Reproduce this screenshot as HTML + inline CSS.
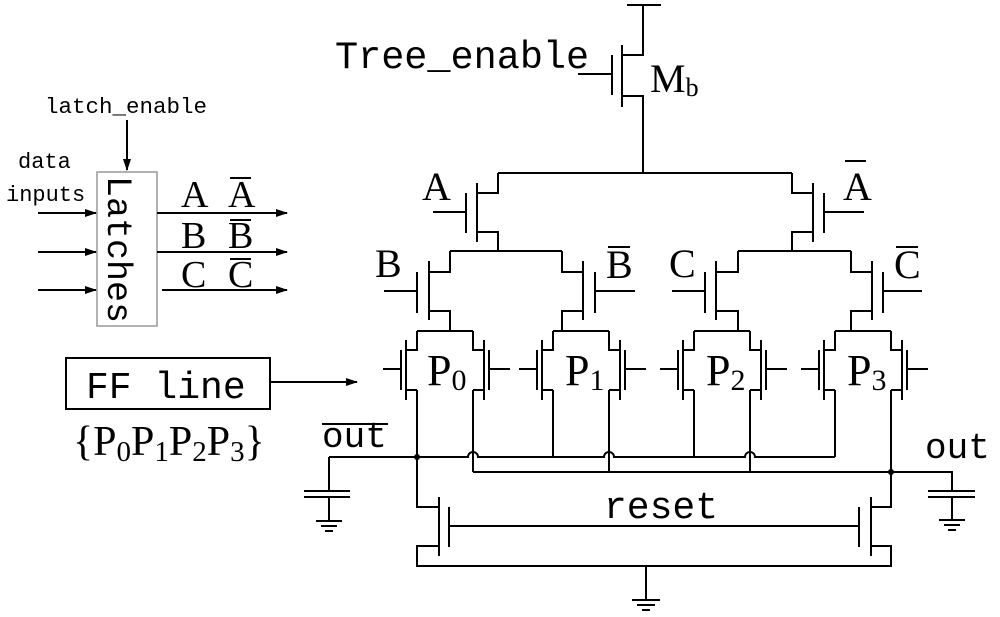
<!DOCTYPE html>
<html><head><meta charset="utf-8"><style>
html,body{margin:0;padding:0;background:#fff}
svg{display:block}
.s{font-family:"Liberation Serif",serif;fill:#000}
.m{font-family:"Liberation Mono",monospace;fill:#000}
</style></head><body>
<svg width="1000" height="617" viewBox="0 0 1000 617" xmlns="http://www.w3.org/2000/svg">
<defs>
<marker id="ar" markerWidth="12" markerHeight="10" refX="11" refY="5" orient="auto" markerUnits="userSpaceOnUse"><path d="M0,1 L12,5 L0,9 Z" fill="#000"/></marker>
</defs>
<g fill="none" stroke="#000" stroke-width="2">
<path d="M627,5 H661 M643,5 V55 H622 M622,45 V107 M612,55 V95 M578,74 H612 M622,96 H643 V173"/>
<path d="M498,173 H792"/>
<path d="M498,173 V193 H477 M477,183 V242 M466,193 V233 M433,212 H466 M477,232 H498 V251"/>
<path d="M792,173 V193 H813 M813,183 V242 M824,193 V233 M824,212 H864 M813,232 H792 V251"/>
<path d="M450,251 H562"/>
<path d="M450,251 V272 H429 M429,261 V320 M417,272 V313 M384,291 H417 M429,311 H450 V331"/>
<path d="M562,251 V272 H583 M583,261 V320 M595,272 V313 M595,291 H635 M583,311 H562 V331"/>
<path d="M738,251 H851"/>
<path d="M738,251 V272 H716 M716,261 V320 M705,272 V313 M672,291 H705 M716,311 H738 V331"/>
<path d="M851,251 V272 H872 M872,261 V320 M883,272 V313 M883,291 H922 M872,311 H851 V331"/>
<g id="pu">
<path d="M417,331 H473 M417,331 V350 H406 M406,340 V400 M401,350 V390 M383,369 H401 M406,390 H417 M473,331 V350 H484 M484,340 V400 M489,350 V390 M489,369 H510 M484,390 H473"/>
</g>
<use href="#pu" x="136"/>
<use href="#pu" x="277"/>
<use href="#pu" x="418"/>
<path d="M417,390 V507 H439"/>
<path d="M553,390 V457 M694,390 V457 M835,390 V457"/>
<path d="M473,390 V472 M609,390 V472 M750,390 V472"/>
<path d="M891,390 V507 H871"/>
<path d="M329,457 H468 A5,5 0 0 1 478,457 H604 A5,5 0 0 1 614,457 H745 A5,5 0 0 1 755,457 H835"/>
<path d="M329,457 V491 M304,491 H350 M304,497 H350 M329,497 V521 M316,521 H342 M321,526 H337 M325,531 H333"/>
<path d="M473,472 H952 V491 M928,491 H975 M928,497 H975 M952,497 V520 M939,520 H965 M944,525 H960 M948,530 H956"/>
<path d="M439,497 V556 M449,507 V547 M449,526 H859 M859,507 V547 M871,497 V556 M439,546 H417 V566 H891 V546 H871 M646,566 V600 M632,600 H660 M637,605 H655 M642,610 H650"/>
<rect x="97" y="172" width="60" height="154" stroke="#999" stroke-width="1.5"/>
<path d="M127,120 V170" marker-end="url(#ar)"/>
<path d="M38,213 H96" marker-end="url(#ar)"/>
<path d="M38,252 H96" marker-end="url(#ar)"/>
<path d="M38,290 H96" marker-end="url(#ar)"/>
<path d="M157,213 H287" marker-end="url(#ar)"/>
<path d="M157,252 H287" marker-end="url(#ar)"/>
<path d="M162,290 H287" marker-end="url(#ar)"/>
<rect x="66" y="358" width="204" height="51"/>
<path d="M270,382 H357" marker-end="url(#ar)"/>
<path d="M845,161 H866 M608,247 H630 M896,247 H918 M230,178 H251 M230,220 H251 M230,259 H251 M322,424 H388"/>
</g>
<circle cx="417" cy="457" r="3"/>
<circle cx="891" cy="472" r="3"/>
<text x="335" y="68" class="m" font-size="38.5">Tree_enable</text>
<text x="650" y="92" class="s" font-size="40">M<tspan font-size="26" dy="4">b</tspan></text>
<text x="422" y="200" class="s" font-size="40">A</text>
<text x="843" y="200" class="s" font-size="40">A</text>
<text x="375" y="277" class="s" font-size="40">B</text>
<text x="606" y="278" class="s" font-size="40">B</text>
<text x="669" y="277" class="s" font-size="40">C</text>
<text x="894" y="278" class="s" font-size="40">C</text>
<text x="427" y="385" class="s" font-size="44">P<tspan font-size="30" dy="5">0</tspan></text>
<text x="565" y="385" class="s" font-size="44">P<tspan font-size="30" dy="5">1</tspan></text>
<text x="706" y="385" class="s" font-size="44">P<tspan font-size="30" dy="5">2</tspan></text>
<text x="847" y="385" class="s" font-size="44">P<tspan font-size="30" dy="5">3</tspan></text>
<text x="322" y="447" class="m" font-size="36">out</text>
<text x="925" y="458" class="m" font-size="36">out</text>
<text x="604" y="518" class="m" font-size="38">reset</text>
<text x="45" y="113" class="m" font-size="22.5">latch_enable</text>
<text x="18" y="168" class="m" font-size="22">data</text>
<text x="6" y="201" class="m" font-size="22">inputs</text>
<text transform="translate(108,176) rotate(90)" class="m" font-size="35">Latches</text>
<text x="181" y="207" class="s" font-size="38">A</text>
<text x="228" y="207" class="s" font-size="38">A</text>
<text x="181" y="248" class="s" font-size="38">B</text>
<text x="228" y="248" class="s" font-size="38">B</text>
<text x="181" y="287" class="s" font-size="38">C</text>
<text x="228" y="287" class="s" font-size="38">C</text>
<text x="86" y="398" class="m" font-size="38">FF line</text>
<text x="73" y="455" class="s" font-size="42">{P<tspan font-size="29" dy="6">0</tspan><tspan dy="-6">P</tspan><tspan font-size="29" dy="6">1</tspan><tspan dy="-6">P</tspan><tspan font-size="29" dy="6">2</tspan><tspan dy="-6">P</tspan><tspan font-size="29" dy="6">3</tspan><tspan dy="-6">}</tspan></text>
</svg>
</body></html>
